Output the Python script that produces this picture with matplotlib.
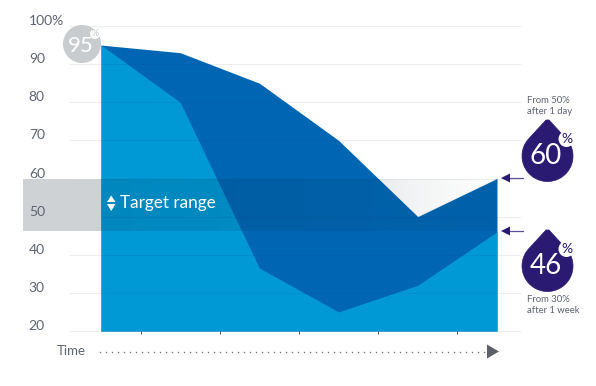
import matplotlib
matplotlib.use('Agg')
import matplotlib.pyplot as plt
import numpy as np
from matplotlib.patches import Circle, Polygon
from matplotlib.transforms import ScaledTranslation

plt.rcParams['font.family'] = ['Lato', 'DejaVu Sans']

# values
time_steps = [0, 1, 2, 3, 4, 5]
upper_values = [95, 93, 85, 70, 50, 60]
lower_values = [95, 80, 36.5, 25, 32, 46]
y_ticks = [20, 30, 40, 50, 60, 70, 80, 90, 100]
y_labels = ['20', '30', '40', '50', '60', '70', '80', '90', '100%']
x_ticks = [0.5, 1.5, 2.5, 3.5, 4.5]
target_low = 46.2
target_high = 59.8

W, H = 596, 386
LIGHT = '#0099d6'
DARK = '#0066b3'
PURPLE = '#2a1a72'
TEXT = '#5f6472'

fig = plt.figure(figsize=(W / 100, H / 100), dpi=100)

# main axes sits exactly on the plot rectangle
left, right, top, bottom = 101, 497, 26, 331
ax = fig.add_axes([left / W, 1 - bottom / H, (right - left) / W, (bottom - top) / H])
ax.patch.set_visible(False)
ax.set_axisbelow(False)
for s in ax.spines.values():
    s.set_visible(False)

# gridlines run past the plot on both sides
for v in y_ticks:
    ax.plot([-31 / 79.2, 5 + 23 / 79.2], [v, v], color='#eceded', lw=0.8, clip_on=False, zorder=1)

# grey band fading out towards the right
fade = np.ones((1, 256, 4))
fade[..., :3] = matplotlib.colors.to_rgb('#cfd2d5')
fade[0, :, 3] = np.clip((505 - np.linspace(23, 497, 256)) / (505 - 260), 0, 1) ** 1.3
ax.imshow(fade, extent=[-78 / 79.2, 5, target_low, target_high], aspect='auto', zorder=2, clip_on=False)

# dark goes all the way down so no seam shows under the light area
ax.fill_between(time_steps, 20, upper_values, color=DARK, lw=0, zorder=3)
ax.fill_between(time_steps, 20, lower_values, color=LIGHT, lw=0, zorder=3)

# band darkens the areas, only inside the polygon, weaker to the right
clip = Polygon(list(zip(time_steps, upper_values)) + [(5, 20), (0, 20)], transform=ax.transData)
shade = np.zeros((1, 256, 4))
shade[..., :3] = matplotlib.colors.to_rgb('#00273f')
shade[0, :, 3] = np.linspace(0.16, 0.07, 256)
band = ax.imshow(shade, extent=[0, 5, target_low, target_high], aspect='auto', zorder=4)
band.set_clip_path(clip)
for v in y_ticks:
    line, = ax.plot([0, 5], [v, v], color='#00406f', alpha=0.10, lw=0.8, zorder=4)
    line.set_clip_path(clip)
ax.set_xlim(0, 5)
ax.set_ylim(20, 100)

ax.set_xticks(x_ticks)
ax.set_xticklabels([])
ax.tick_params(axis='x', length=2, width=0.7, color='#555555', direction='out')
ax.set_yticks(y_ticks)
ax.set_yticklabels(y_labels, fontsize=10, color=TEXT)
ax.tick_params(axis='y', length=0, pad=52)
lift = ScaledTranslation(0, 5 / 100, fig.dpi_scale_trans)
for lab in ax.get_yticklabels():
    lab.set_ha('left')
    lab.set_va('center')
    lab.set_transform(lab.get_transform() + lift)

# overlay in pixel coordinates for the annotations
ov = fig.add_axes([0, 0, 1, 1])
ov.set_xlim(0, W)
ov.set_ylim(H, 0)
ov.axis('off')
ov.patch.set_visible(False)


def drop(cx, cy, value):
    r = 25.5
    a = np.radians(np.linspace(-45, 225, 60))
    pts = [(cx + r * np.cos(t), cy + r * np.sin(t)) for t in a]
    pts += [(cx - 1.5, cy - 36), (cx + 1.5, cy - 36)]
    ov.add_patch(Polygon(pts, closed=True, facecolor=PURPLE, edgecolor=PURPLE, lw=0.5))
    ov.add_patch(Circle((cx + 19, cy - 17), 8, color='white', lw=0))
    ov.text(cx + 19.5, cy - 17, '%', color=PURPLE, fontsize=10, ha='center', va='center')
    ov.text(cx - 1.5, cy, value, color='white', fontsize=20, ha='center', va='center')


drop(547.5, 156, '60')
drop(547.5, 266, '46')
ov.text(527, 106, 'From 50%\nafter 1 day', fontsize=6.8, color=TEXT, va='center', ha='left', linespacing=1.15)
ov.text(527, 305, 'From 30%\nafter 1 week', fontsize=6.8, color=TEXT, va='center', ha='left', linespacing=1.15)

# start badge
ov.add_patch(Circle((82, 44), 19, color='#c9cccf', lw=0))
ov.add_patch(Circle((95, 34), 5, color='white', lw=0))
ov.text(95, 34, '%', color='#c0c3c6', fontsize=6.5, ha='center', va='center')
ov.text(80.5, 46, '95', color='white', fontsize=16, ha='center', va='center')

# arrows into the end values
for y in (178, 231):
    ov.plot([507, 523], [y, y], color=PURPLE, lw=0.9, alpha=0.75)
    ov.add_patch(Polygon([(501, y), (510, y - 4.5), (510, y + 4.5)], color=PURPLE, lw=0))

# target range marker
ov.add_patch(Polygon([(107, 202), (115.5, 202), (111.2, 195.5)], color='white', lw=0))
ov.add_patch(Polygon([(107, 204), (115.5, 204), (111.2, 211)], color='white', lw=0))
ov.text(120.5, 203, 'Target range', color='white', fontsize=12.3, va='center', ha='left')

# time axis
ov.text(57, 351, 'Time', fontsize=9.5, color=TEXT, va='center', ha='left')
dots_x = np.arange(100, 486, 6)
ov.scatter(dots_x, np.full(len(dots_x), 351.5), s=1.2, color='#777a80', lw=0)
ov.add_patch(Polygon([(487, 344.5), (487, 358.5), (499, 351.5)], color='#5d6068', lw=0))

fig.savefig('out.png', dpi=100)
